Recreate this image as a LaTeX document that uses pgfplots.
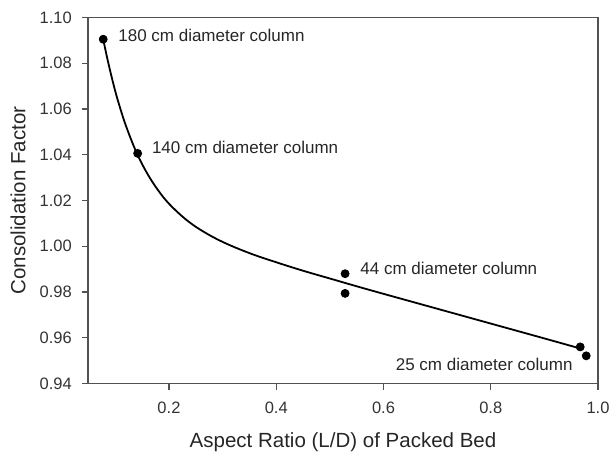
\documentclass[border=0pt]{standalone}
\usepackage{fontspec}
\setmainfont{Liberation Sans}
\usepackage{pgfplots}
\pgfplotsset{compat=1.18}
\begin{document}
\begin{tikzpicture}
\begin{axis}[
  scale only axis, width=255pt, height=183pt,
  xmin=0.049, xmax=1.0, ymin=0.94, ymax=1.10,
  xtick={0.2,0.4,0.6,0.8,1.0},
  ytick={0.94,0.96,0.98,1.00,1.02,1.04,1.06,1.08,1.10},
  axis line style={draw=black!68, line width=0.6pt},
  tick align=outside, major tick length=3pt,
  xtick pos=bottom, ytick pos=left,
  tick style={draw=black!68, line width=0.6pt},
  /pgf/number format/assume math mode=true,
  xticklabel style={/pgf/number format/fixed,/pgf/number format/fixed zerofill,/pgf/number format/precision=1, font=\fontsize{8.25}{10}\selectfont, text=black!80, yshift=-2.8pt},
  yticklabel style={/pgf/number format/fixed,/pgf/number format/fixed zerofill,/pgf/number format/precision=2, font=\fontsize{8.25}{10}\selectfont, text=black!80, xshift=-1.6pt},
  xlabel={Aspect Ratio (L/D) of Packed Bed},
  ylabel={Consolidation Factor},
  xlabel style={at={(rel axis cs:0.5,-0.176)}, anchor=base, font=\fontsize{10.25}{12}\selectfont, text=black!85},
  ylabel style={at={(rel axis cs:-0.1372,0.5)}, anchor=center, font=\fontsize{10.25}{12}\selectfont, text=black!85},
  clip=false,
]
\addplot[black, line width=0.9pt, smooth, tension=0.6] coordinates {
  (0.0774,1.0905) (0.085,1.0821) (0.095,1.0722) (0.105,1.0635) (0.120,1.0525)
  (0.140,1.0407) (0.160,1.0316) (0.180,1.0244) (0.200,1.0186) (0.230,1.0120)
  (0.260,1.0070) (0.300,1.0019) (0.350,0.9970) (0.400,0.9930) (0.450,0.9893)
  (0.500,0.9859) (0.550,0.9825) (0.600,0.9792) (0.700,0.9727) (0.800,0.9662)
  (0.900,0.9597) (0.970,0.9551)
};
\addplot[only marks, mark=*, mark size=2pt, black] coordinates {
  (0.0774,1.0905) (0.1416,1.0406) (0.5284,0.9880) (0.5284,0.9794) (0.9668,0.9560) (0.9780,0.9521)
};
\node[anchor=west, inner sep=0pt, font=\fontsize{8.5}{10}\selectfont, text=black!85] at (axis cs:0.1049,1.0923) {180 cm diameter column};
\node[anchor=west, inner sep=0pt, font=\fontsize{8.5}{10}\selectfont, text=black!85] at (axis cs:0.1677,1.0430) {140 cm diameter column};
\node[anchor=west, inner sep=0pt, font=\fontsize{8.5}{10}\selectfont, text=black!85] at (axis cs:0.5563,0.9905) {44 cm diameter column};
\node[anchor=east, inner sep=0pt, font=\fontsize{8.5}{10}\selectfont, text=black!85] at (axis cs:0.9532,0.9483) {25 cm diameter column};
\coordinate (bbsw) at (rel axis cs:-0.1725,-0.1954);
\coordinate (bbne) at (rel axis cs:1.0235,1.0478);
\end{axis}
\pgfresetboundingbox
\path[use as bounding box] (bbsw) rectangle (bbne);
\end{tikzpicture}
\end{document}
